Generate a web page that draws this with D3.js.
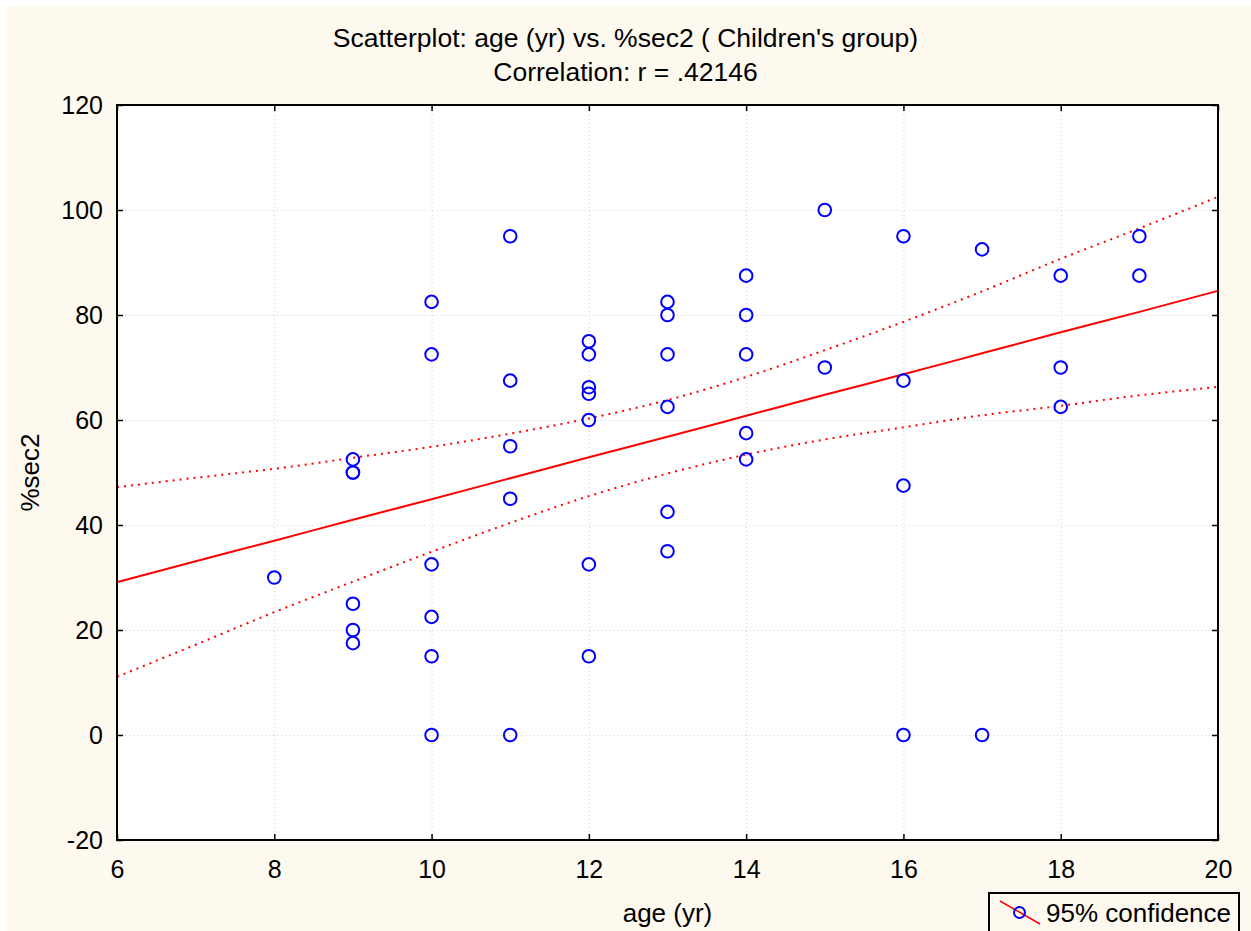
<!DOCTYPE html>
<meta charset="utf-8">
<script src="https://d3js.org/d3.v7.min.js"></script>
<style>
body { margin: 0; background: #ffffff; }
text { font-family: "Liberation Sans", Arial, sans-serif; fill: #000; }
</style>
<body>
<div id="chart"></div>
<script>

// scatter points: age (yr) and %sec2
var ageVals  = [8,
  9, 9, 9, 9, 9, 9,
  10, 10, 10, 10, 10, 10,
  11, 11, 11, 11, 11,
  12, 12, 12, 12, 12, 12, 12,
  13, 13, 13, 13, 13, 13,
  14, 14, 14, 14, 14,
  15, 15,
  16, 16, 16, 16,
  17, 17,
  18, 18, 18,
  19, 19];
var sec2Vals = [30,
  52.5, 50, 50, 25, 20, 17.5,
  82.5, 72.5, 32.5, 22.5, 15, 0,
  95, 67.5, 55, 45, 0,
  75, 72.5, 66.25, 65, 60, 32.5, 15,
  82.5, 80, 72.5, 62.5, 42.5, 35,
  87.5, 80, 72.5, 57.5, 52.5,
  100, 70,
  95, 67.5, 47.5, 0,
  92.5, 0,
  87.5, 70, 62.5,
  95, 87.5];

// regression line and 95% confidence band, read at each whole age
var fitAge   = [6, 7, 8, 9, 10, 11, 12, 13, 14, 15, 16, 17, 18, 19, 20];
var fitLine  = [29.1, 33.1, 37.0, 41.0, 44.9, 48.9, 52.9, 56.8, 60.8, 64.8, 68.7, 72.7, 76.7, 80.6, 84.6];
var fitUpper = [47.2, 49.0, 50.7, 52.8, 54.9, 57.4, 60.3, 63.8, 68.2, 73.3, 78.7, 84.5, 90.7, 96.5, 102.5];
var fitLower = [11.1, 17.2, 23.4, 29.2, 34.9, 40.4, 45.5, 49.8, 53.4, 56.3, 58.6, 60.9, 62.7, 64.7, 66.3];

var xTicks = [6, 8, 10, 12, 14, 16, 18, 20];
var yTicks = [-20, 0, 20, 40, 60, 80, 100, 120];

var W = 1251, H = 931;
var margin = {top: 105, right: 33, bottom: 91, left: 117},
    width = W - margin.left - margin.right,
    height = H - margin.top - margin.bottom;

var root = d3.select("#chart")
  .append("svg")
    .attr("width", W)
    .attr("height", H);

// cream panel
root.append("rect")
  .attr("x", 6).attr("y", 6)
  .attr("width", W - 6).attr("height", H - 6)
  .attr("fill", "#fdf9ef");

// title
root.append("text")
  .attr("x", W / 2).attr("y", 47)
  .attr("text-anchor", "middle")
  .style("font-size", "26.5px")
  .text("Scatterplot: age (yr) vs. %sec2 ( Children's group)");
root.append("text")
  .attr("x", W / 2).attr("y", 81)
  .attr("text-anchor", "middle")
  .style("font-size", "26.5px")
  .text("Correlation: r = .42146");

var svg = root.append("g")
  .attr("transform", "translate(" + margin.left + "," + margin.top + ")");

svg.append("rect")
  .attr("width", width).attr("height", height)
  .attr("fill", "#ffffff");

var x = d3.scaleLinear().domain([6, 20]).range([0, width]);
var y = d3.scaleLinear().domain([-20, 120]).range([height, 0]);
var plain = function(d) { return String(d); };

// grid
var gx = svg.append("g")
  .attr("transform", "translate(0," + height + ")")
  .call(d3.axisBottom(x).tickValues(xTicks).tickSize(-height).tickFormat(""));
var gy = svg.append("g")
  .call(d3.axisLeft(y).tickValues(yTicks).tickSize(-width).tickFormat(""));
[gx, gy].forEach(function(g) {
  g.select(".domain").remove();
  g.selectAll("line")
    .attr("stroke", "#cfcfcf")
    .attr("stroke-width", 1)
    .attr("stroke-dasharray", "1,3");
});

// confidence band + regression line
var pts = function(arr) { return fitAge.map(function(a, i) { return [a, arr[i]]; }); };
var line = d3.line()
  .x(function(d) { return x(d[0]); })
  .y(function(d) { return y(d[1]); })
  .curve(d3.curveMonotoneX);

svg.append("clipPath").attr("id", "plotclip")
  .append("rect").attr("width", width).attr("height", height);

[fitUpper, fitLower].forEach(function(band) {
  svg.append("path")
    .datum(pts(band))
    .attr("d", line)
    .attr("fill", "none")
    .attr("stroke", "#ff0000")
    .attr("stroke-width", 2)
    .attr("stroke-dasharray", "2,5")
    .attr("clip-path", "url(#plotclip)");
});
svg.append("path")
  .datum(pts(fitLine))
  .attr("d", line)
  .attr("fill", "none")
  .attr("stroke", "#ff0000")
  .attr("stroke-width", 2)
  .attr("clip-path", "url(#plotclip)");

// points
svg.selectAll("circle.pt")
  .data(ageVals)
  .enter()
  .append("circle")
    .attr("class", "pt")
    .attr("cx", function(d) { return x(d); })
    .attr("cy", function(d, i) { return y(sec2Vals[i]); })
    .attr("r", 6.3)
    .attr("fill", "none")
    .attr("stroke", "#0000ff")
    .attr("stroke-width", 2);

// frame
svg.append("rect")
  .attr("width", width).attr("height", height)
  .attr("fill", "none")
  .attr("stroke", "#000")
  .attr("stroke-width", 2);

// inside ticks on all four sides
function styleAxis(g) {
  g.select(".domain").remove();
  g.selectAll("line").attr("stroke", "#000").attr("stroke-width", 1.5);
  g.selectAll("text").style("font-size", "25px").attr("fill", "#000");
}
var xb = svg.append("g")
  .attr("transform", "translate(0," + height + ")")
  .call(d3.axisBottom(x).tickValues(xTicks).tickSizeInner(-6).tickSizeOuter(0).tickFormat(plain));
styleAxis(xb);
xb.selectAll("text").attr("y", 20).attr("dy", "0.71em");
var xt = svg.append("g")
  .call(d3.axisTop(x).tickValues(xTicks).tickSizeInner(-6).tickSizeOuter(0).tickFormat(""));
styleAxis(xt);
var yl = svg.append("g")
  .call(d3.axisLeft(y).tickValues(yTicks).tickSizeInner(-6).tickSizeOuter(0).tickFormat(plain));
styleAxis(yl);
yl.selectAll("text").attr("x", -14);
var yr = svg.append("g")
  .attr("transform", "translate(" + width + ",0)")
  .call(d3.axisRight(y).tickValues(yTicks).tickSizeInner(-6).tickSizeOuter(0).tickFormat(""));
styleAxis(yr);

// axis titles
svg.append("text")
  .attr("x", width / 2).attr("y", height + 82)
  .attr("text-anchor", "middle")
  .style("font-size", "26px")
  .text("age (yr)");
svg.append("text")
  .attr("transform", "translate(" + (-78) + "," + (height / 2) + ") rotate(-90)")
  .attr("text-anchor", "middle")
  .style("font-size", "26px")
  .text("%sec2");

// legend
var lg = root.append("g");
lg.append("rect")
  .attr("x", 989).attr("y", 893)
  .attr("width", 250).attr("height", 60)
  .attr("fill", "none")
  .attr("stroke", "#000")
  .attr("stroke-width", 2);
lg.append("line")
  .attr("x1", 1000).attr("y1", 901)
  .attr("x2", 1040).attr("y2", 924)
  .attr("stroke", "#ff0000")
  .attr("stroke-width", 1.5);
lg.append("circle")
  .attr("cx", 1019.5).attr("cy", 912.5).attr("r", 5.5)
  .attr("fill", "none")
  .attr("stroke", "#0000ff")
  .attr("stroke-width", 2);
lg.append("text")
  .attr("x", 1046).attr("y", 922)
  .style("font-size", "26px")
  .text("95% confidence");

</script>
